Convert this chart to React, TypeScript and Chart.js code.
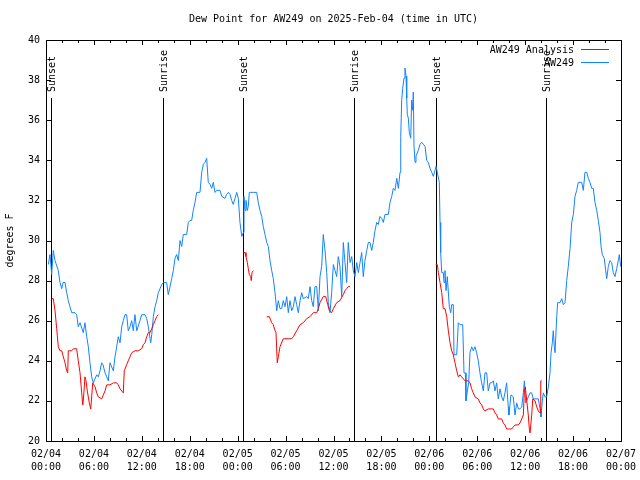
import React, { useEffect, useRef } from 'react';
import { Chart, registerables } from 'chart.js';

Chart.register(...registerables);

const FONT = '"DejaVu Sans Mono", "Liberation Mono", monospace';

const chartTitle = 'Dew Point for AW249 on 2025-Feb-04 (time in UTC)';
const yAxisTitle = 'degrees F';
const analysisName = 'AW249 Analysis';
const stationName = 'AW249';

const xTickLabels = [
  ['02/04', '00:00'], ['02/04', '06:00'], ['02/04', '12:00'], ['02/04', '18:00'],
  ['02/05', '00:00'], ['02/05', '06:00'], ['02/05', '12:00'], ['02/05', '18:00'],
  ['02/06', '00:00'], ['02/06', '06:00'], ['02/06', '12:00'], ['02/06', '18:00'],
  ['02/07', '00:00'],
];

const sunEventHours = [0.63, 14.69, 24.71, 38.6, 48.8, 62.65];
const sunEventLabels = ['Sunset', 'Sunrise', 'Sunset', 'Sunrise', 'Sunset', 'Sunrise'];

// hours since 02/04 00:00 UTC
const stationHours = [
  0.29, 0.5, 0.71, 0.91, 1.13, 1.54, 1.75, 1.97, 2.13, 2.38, 2.59, 2.79, 3.0, 3.22, 3.63, 3.84,
  4.04, 4.26, 4.67, 4.88, 5.1, 5.3, 5.51, 5.72, 5.92, 6.35, 6.55, 6.76, 6.97, 7.14, 7.39, 7.6,
  7.8, 8.01, 8.43, 8.64, 8.85, 9.05, 9.27, 9.48, 9.68, 9.89, 10.1, 10.3, 10.52, 10.73, 10.93,
  11.14, 11.36, 11.77, 11.98, 12.4, 12.61, 12.81, 13.11, 13.24, 13.44, 13.65, 13.86, 14.06,
  14.28, 14.49, 14.69, 15.11, 15.31, 15.53, 15.74, 15.94, 16.15, 16.36, 16.57, 16.78, 16.99,
  17.19, 17.62, 17.82, 18.03, 18.24, 18.44, 18.66, 18.87, 19.28, 19.5, 19.7, 19.91, 20.12,
  20.32, 20.54, 20.75, 20.95, 21.16, 21.37, 21.79, 22.0, 22.41, 22.63, 22.83, 23.04, 23.25,
  23.45, 23.67, 23.88, 24.08, 24.29, 24.51, 24.71, 24.79, 24.92, 25.04, 25.21, 25.33, 25.46,
  25.63, 25.96, 26.17, 26.38, 26.58, 26.8, 27.01, 27.21, 27.42, 27.64, 27.84, 28.05, 28.26,
  28.46, 28.68, 28.89, 29.09, 29.3, 29.51, 29.71, 29.93, 30.14, 30.34, 30.55, 30.77, 30.97,
  31.18, 31.39, 31.59, 31.81, 32.02, 32.22, 32.64, 32.84, 33.06, 33.27, 33.47, 33.68, 33.9,
  34.1, 34.31, 34.52, 34.72, 34.94, 35.15, 35.35, 35.56, 35.77, 35.98, 36.19, 36.4, 36.6,
  36.81, 37.03, 37.23, 37.44, 37.65, 37.85, 38.07, 38.28, 38.48, 38.69, 38.91, 39.11, 39.32,
  39.53, 39.73, 39.94, 40.16, 40.36, 40.57, 40.78, 40.98, 41.2, 41.41, 41.61, 41.82, 42.04,
  42.24, 42.45, 42.86, 43.08, 43.29, 43.49, 43.7, 43.92, 44.12, 44.33, 44.42, 44.54, 44.67,
  44.83, 44.95, 45.08, 45.17, 45.24, 45.37, 45.49, 45.67, 45.79, 45.92, 45.99, 46.08, 46.21,
  46.33, 46.62, 46.83, 47.05, 47.25, 47.46, 47.67, 47.87, 48.08, 48.3, 48.5, 48.71, 48.84,
  49.0, 49.25, 49.34, 49.42, 49.55, 49.75, 49.84, 49.96, 50.09, 50.25, 50.5, 50.68, 50.8,
  51.0, 51.09, 51.43, 51.63, 51.84, 52.18, 52.34, 52.51, 52.59, 52.76, 52.93, 53.09, 53.3,
  53.5, 53.72, 53.93, 54.13, 54.34, 54.55, 54.76, 54.97, 55.18, 55.38, 55.6, 55.81, 56.01,
  56.22, 56.43, 56.63, 56.85, 57.06, 57.26, 57.47, 57.68, 57.88, 57.97, 58.22, 58.51, 58.73,
  58.94, 59.14, 59.35, 59.57, 59.77, 59.9, 60.07, 60.2, 60.39, 60.61, 60.82, 61.02, 61.65,
  61.86, 61.98, 62.15, 62.27, 62.48, 62.69, 62.9, 63.11, 63.24, 63.4, 63.52, 63.65, 63.74,
  63.95, 64.07, 64.36, 64.58, 64.78, 64.99, 65.2, 65.4, 65.62, 65.83, 66.03, 66.24, 66.45,
  66.65, 66.87, 67.08, 67.28, 67.49, 67.71, 67.91, 68.12, 68.33, 68.53, 68.74, 68.96, 69.16,
  69.37, 69.5, 69.66, 69.91, 70.08, 70.21, 70.41, 70.62, 70.83, 71.03, 71.25, 71.46, 71.66,
  71.79, 71.96,
];

const stationDewpt = [
  28.8, 29.3, 28.3, 29.5, 29.0, 28.5, 27.9, 27.6, 27.9, 27.9, 27.4, 27.0, 26.7, 26.4, 26.4, 26.3,
  25.7, 25.9, 25.4, 25.9, 25.2, 24.7, 23.9, 23.2, 22.9, 23.3, 23.2, 23.5, 23.9, 23.8, 23.4, 23.2,
  23.0, 23.9, 23.5, 24.2, 24.7, 25.2, 24.9, 25.7, 26.0, 26.3, 26.3, 25.5, 25.7, 26.0, 25.5,
  26.3, 25.5, 26.0, 26.3, 26.3, 26.1, 25.7, 24.9, 25.3, 26.2, 26.7, 27.0, 27.4,
  27.6, 27.8, 27.9, 27.9, 27.3, 27.7, 28.1, 28.5, 29.1, 29.3, 29.0, 30.0, 29.7,
  30.3, 30.3, 30.9, 31.0, 31.0, 31.5, 31.9, 32.4, 32.4, 33.4, 33.8, 33.9, 34.1,
  32.9, 32.8, 32.6, 32.9, 32.4, 32.5, 32.5, 32.2, 32.1, 32.3, 32.4, 32.3, 32.0,
  31.8, 32.1, 32.4, 32.1, 30.9, 30.2, 30.4, 32.2, 31.5, 32.0, 31.5, 31.7, 32.4,
  32.4, 32.4, 32.4, 32.4, 31.9, 31.5, 31.2, 30.7, 30.3, 29.9, 29.7, 29.0, 28.5,
  28.1, 27.4, 26.5, 27.0, 26.6, 26.6, 27.0, 26.7, 27.2, 26.4, 27.0, 26.5, 26.7,
  27.2, 26.8, 26.4, 27.0, 27.4, 27.1, 27.2, 27.1, 27.7, 27.0, 26.7, 27.7, 27.7,
  26.5, 28.2, 28.7, 30.3, 29.5, 28.4, 26.9, 26.4, 27.4, 28.8, 28.5, 28.2, 29.2,
  28.7, 27.2, 29.9, 28.9, 27.9, 29.9, 28.9, 29.2, 28.5, 28.2, 28.9, 28.4, 28.9,
  29.4, 28.2, 29.0, 29.5, 29.9, 29.9, 29.5, 29.9, 30.5, 30.9, 30.8, 31.2, 31.1,
  30.9, 31.3, 31.3, 31.9, 32.2, 32.6, 32.5, 33.1, 32.6, 33.4, 35.2, 37.0, 37.6,
  38.1, 38.6, 38.2, 37.1, 36.3, 36.1, 35.4, 35.1, 37.0, 36.5, 37.4, 34.7, 33.9,
  34.2, 34.5, 34.8, 34.9, 34.8, 34.7, 34.0, 33.9, 33.6, 33.4, 33.2, 33.5, 33.7,
  33.4, 32.9, 30.9, 29.4, 28.4, 28.4, 27.9, 28.5, 27.5, 28.2, 26.7, 26.4, 26.8,
  26.8, 24.3, 24.3, 25.9, 25.8, 25.8, 23.4, 23.4, 22.0, 22.5, 22.9, 24.4, 24.7,
  24.5, 24.7, 24.4, 24.0, 23.4, 22.9, 22.5, 23.4, 23.4, 22.5, 22.9, 22.9, 23.0,
  22.5, 22.9, 22.1, 22.6, 22.2, 22.0, 22.4, 22.9, 21.7, 21.3, 22.3, 22.2, 21.3,
  21.9, 21.6, 21.6, 21.7, 22.4, 23.0, 21.9, 22.0, 22.2, 22.4, 22.4, 22.1, 22.1,
  21.6, 21.2, 22.0, 22.4, 22.2, 22.2, 22.7, 23.4, 24.4, 24.9, 25.5, 24.7, 24.4,
  26.2, 26.9, 26.9, 27.1, 26.8, 26.9, 28.0, 28.7, 29.6, 30.9, 31.3, 32.2, 32.5,
  32.9, 32.9, 32.9, 32.5, 33.4, 33.4, 33.1, 32.9, 32.6, 32.6, 31.9, 31.5, 31.0,
  30.4, 29.7, 29.3, 29.1, 28.5, 28.1, 28.7, 29.0, 28.9, 28.4, 28.2, 28.6, 29.0,
  29.3, 28.7,
];

// null marks a gap in the analysis series
const analysisHours = [
  0.71, 0.91, 1.13, 1.34, 1.54, 1.75, 1.97, 2.17, 2.38, 2.59, 2.72, 2.79, 3.0, 3.22, 3.42, 3.84,
  4.04, 4.26, 4.47, 4.6, 4.67, 4.88, 5.01, 5.17, 5.42, 5.6, 5.72, 5.85, 6.14, 6.35, 6.55, 6.97,
  7.18, 7.39, 7.6, 8.01, 8.43, 8.85, 9.05, 9.27, 9.68, 9.8, 10.1, 10.3, 10.52, 10.73, 11.14,
  11.56, 11.98, 12.18, 12.4, 12.61, 12.81, 13.02, 13.24, 13.44, 13.65, 13.86, 14.06,
  19.0,
  24.71, 24.92, 25.04, 25.21, 25.33, 25.46, 25.63, 25.7, 25.8, 25.96,
  26.8,
  27.64, 27.96, 28.26, 28.46, 28.68, 28.8, 28.96, 29.09, 29.3, 29.71, 30.34, 30.77, 30.97,
  31.39, 31.81, 32.22, 32.64, 33.06, 33.47, 33.9, 34.1, 34.31, 34.72, 35.03, 35.28, 35.48,
  35.77, 35.98, 36.4, 36.81, 37.23, 37.44, 37.65, 37.85, 38.07,
  43.0,
  48.8, 49.0, 49.13, 49.34, 49.55, 49.75, 49.96, 50.18, 50.38, 50.59, 50.8, 51.0, 51.21,
  51.43, 51.63, 51.84, 52.05, 52.47, 52.89, 53.09, 53.3, 53.5, 53.72, 54.13, 54.34, 54.55,
  54.76, 54.97, 55.38, 56.01, 56.22, 56.43, 56.63, 57.06, 57.26, 57.47, 57.68, 57.88, 58.31,
  58.51, 58.73, 59.14, 59.35, 59.57, 59.77, 59.9, 60.02, 60.2, 60.39, 60.52, 60.61, 60.73,
  60.82, 60.95, 61.24, 61.45, 61.65, 61.86, 61.95, 62.07,
];

const analysisDewpt = [
  27.1, 27.1, 26.5, 25.6, 24.7, 24.5, 24.5, 24.2, 23.9, 23.5, 23.4, 24.5, 24.5, 24.5, 24.6, 24.6,
  24.0, 23.4, 22.4, 21.8, 22.0, 23.2, 23.0, 22.5, 21.9, 21.6, 22.2, 22.9, 22.7, 22.4, 22.2, 22.1,
  22.3, 22.5, 22.8, 22.8, 22.9, 22.9, 22.8, 22.6, 22.4, 23.5, 23.8, 24.0, 24.2, 24.4, 24.5,
  24.5, 24.6, 24.8, 24.9, 25.2, 25.4, 25.4, 25.6, 25.8, 26.0, 26.2, 26.3,
  null,
  29.4, 29.4, 29.2, 28.9, 28.6, 28.3, 28.2, 28.0, 28.4, 28.5,
  null,
  26.2, 26.2, 25.9, 25.8, 25.5, 25.4, 23.9, 24.2, 24.7, 25.1, 25.1, 25.1, 25.2,
  25.5, 25.8, 25.9, 26.1, 26.2, 26.4, 26.4, 26.6, 26.9, 27.2, 27.2, 26.8, 26.5,
  26.4, 26.6, 26.9, 27.0, 27.3, 27.5, 27.6, 27.7, 27.7,
  null,
  28.8, 28.8, 28.4, 27.9, 27.4, 26.6, 26.6, 26.2, 25.5, 24.9, 24.5, 24.3, 23.9,
  23.5, 23.2, 23.3, 23.2, 23.0, 23.0, 22.9, 22.6, 22.4, 22.2, 22.1, 21.9, 21.8,
  21.6, 21.5, 21.6, 21.6, 21.4, 21.3, 21.1, 21.1, 20.9, 20.8, 20.6, 20.6, 20.6,
  20.7, 20.8, 20.8, 20.9, 21.1, 21.3, 22.5, 22.7, 22.0, 21.3, 20.6, 20.4, 20.4,
  21.3, 22.1, 22.0, 21.7, 21.5, 21.4, 23.0, 23.0,
];

const analysisColor = '#ff0000';
const stationColor = '#1084ff';

const decorPlugin = {
  id: 'decor',
  beforeDatasetsDraw(chart: any) {
    const { ctx, chartArea: a } = chart;
    const x = chart.scales.x;
    ctx.save();
    ctx.strokeStyle = '#000';
    ctx.fillStyle = '#000';
    ctx.lineWidth = 1;
    ctx.font = `10px ${FONT}`;
    sunEventHours.forEach((h, i) => {
      const px = Math.round(x.getPixelForValue(h)) + 0.5;
      ctx.beginPath();
      ctx.moveTo(px, a.top + 58);
      ctx.lineTo(px, a.bottom);
      ctx.stroke();
      ctx.save();
      ctx.translate(px + 1, a.top + 52);
      ctx.rotate(-Math.PI / 2);
      ctx.textAlign = 'left';
      ctx.textBaseline = 'middle';
      ctx.fillText(sunEventLabels[i], 0, 0);
      ctx.restore();
    });
    ctx.restore();
  },
  afterDraw(chart: any) {
    const { ctx, chartArea: a } = chart;
    const x = chart.scales.x;
    const y = chart.scales.y;
    ctx.save();
    ctx.strokeStyle = '#000';
    ctx.lineWidth = 1;
    // frame
    ctx.strokeRect(a.left + 0.5, a.top + 0.5, a.right - a.left, a.bottom - a.top);
    // ticks (inward, all sides)
    ctx.beginPath();
    for (let h = 0; h <= 72; h += 2) {
      const px = Math.round(x.getPixelForValue(h)) + 0.5;
      const len = h % 6 === 0 ? 5 : 3;
      ctx.moveTo(px, a.bottom);
      ctx.lineTo(px, a.bottom - len);
      ctx.moveTo(px, a.top);
      ctx.lineTo(px, a.top + len);
    }
    for (let v = 20; v <= 40; v += 2) {
      const py = Math.round(y.getPixelForValue(v)) + 0.5;
      ctx.moveTo(a.left, py);
      ctx.lineTo(a.left + 5, py);
      ctx.moveTo(a.right, py);
      ctx.lineTo(a.right - 5, py);
    }
    ctx.stroke();

    ctx.fillStyle = '#000';
    ctx.font = `10px ${FONT}`;
    // title
    ctx.textAlign = 'center';
    ctx.textBaseline = 'middle';
    ctx.fillText(chartTitle, (a.left + a.right) / 2, 19);
    // y title
    ctx.save();
    ctx.translate(10, (a.top + a.bottom) / 2);
    ctx.rotate(-Math.PI / 2);
    ctx.fillText(yAxisTitle, 0, 0);
    ctx.restore();
    // legend
    const ds = chart.data.datasets;
    ds.forEach((d: any, i: number) => {
      const ty = a.top + 10 + i * 13;
      ctx.textAlign = 'right';
      ctx.textBaseline = 'middle';
      ctx.fillStyle = '#000';
      ctx.fillText(d.label, a.right - 47, ty);
      ctx.strokeStyle = d.borderColor;
      ctx.beginPath();
      ctx.moveTo(a.right - 40, Math.round(ty) - 0.5);
      ctx.lineTo(a.right - 12, Math.round(ty) - 0.5);
      ctx.stroke();
    });
    ctx.restore();
  },
};

export default function App() {
  const ref = useRef<HTMLCanvasElement | null>(null);
  useEffect(() => {
    if (!ref.current) return;
    const chart = new Chart(ref.current, {
      type: 'line',
      data: {
        datasets: [
          {
            label: analysisName,
            data: analysisHours.map((h, i) => ({ x: h, y: analysisDewpt[i] })) as any,
            borderColor: analysisColor,
            backgroundColor: analysisColor,
            borderWidth: 1,
            pointRadius: 0,
            tension: 0,
            spanGaps: false,
          },
          {
            label: stationName,
            data: stationHours.map((h, i) => ({ x: h, y: stationDewpt[i] })) as any,
            borderColor: stationColor,
            backgroundColor: stationColor,
            borderWidth: 1,
            pointRadius: 0,
            tension: 0,
          },
        ],
      },
      options: {
        animation: false,
        responsive: false,
        maintainAspectRatio: false,
        devicePixelRatio: 1,
        layout: { padding: { top: 40, right: 19, left: 0, bottom: 0 } },
        plugins: {
          legend: { display: false },
          title: { display: false },
          tooltip: { enabled: false },
        },
        scales: {
          x: {
            type: 'linear',
            min: 0,
            max: 72,
            grid: { display: false, drawTicks: false },
            border: { display: false },
            ticks: {
              stepSize: 6,
              autoSkip: false,
              maxRotation: 0,
              padding: 7,
              color: '#000',
              font: { family: FONT, size: 10, lineHeight: 1.3 },
              callback: (v: any) => xTickLabels[Math.round(Number(v) / 6)] as any,
            },
            afterFit: (s: any) => {
              s.height = 39;
              s.paddingLeft = 0;
              s.paddingRight = 0;
            },
          },
          y: {
            type: 'linear',
            min: 20,
            max: 40,
            grid: { display: false, drawTicks: false },
            border: { display: false },
            ticks: {
              stepSize: 2,
              padding: 6,
              color: '#000',
              font: { family: FONT, size: 10 },
            },
            afterFit: (s: any) => {
              s.width = 46;
              s.paddingTop = 0;
              s.paddingBottom = 0;
            },
          },
        },
      },
      plugins: [decorPlugin],
    });
    return () => chart.destroy();
  }, []);
  return (
    <div style={{ position: 'fixed', left: 0, top: 0, width: 640, height: 480, background: '#fff' }}>
      <canvas ref={ref} width={640} height={480} style={{ display: 'block' }} />
    </div>
  );
}
